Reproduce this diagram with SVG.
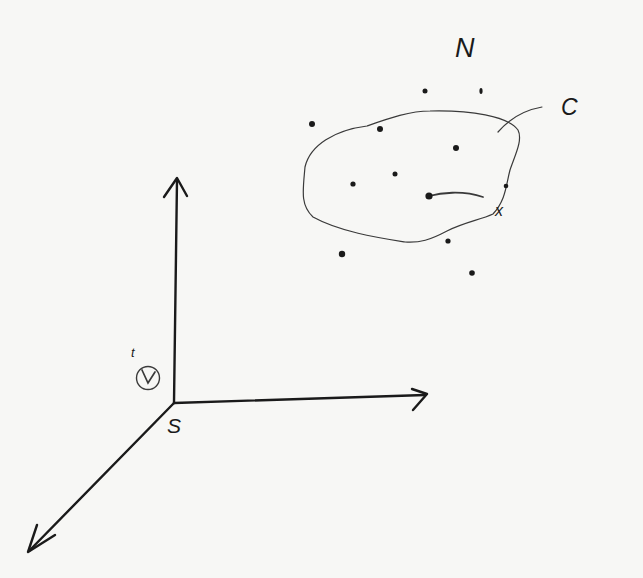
<svg xmlns="http://www.w3.org/2000/svg" width="643" height="578" viewBox="0 0 643 578">
<style>
.ax{fill:none;stroke:#1a1a1a;stroke-width:2.4;stroke-linecap:round;stroke-linejoin:round}
.thin{fill:none;stroke:#3a3a3a;stroke-width:1.2;stroke-linecap:round}
.dot{fill:#1a1a1a}
.lbl{font-family:"Liberation Sans",sans-serif;font-style:italic;fill:#1a1a1a}
</style>
<rect width="643" height="578" fill="#f7f7f5"/>
<g id="axes">
<path class="ax" d="M174,403 L177,180"/>
<path class="ax" d="M164,197 L177,178 L187,196"/>
<path class="ax" d="M174,403 L425,395"/>
<path class="ax" d="M412,389 L427,394 L413,410"/>
<path class="ax" d="M174,403 L29,551"/>
<path class="ax" d="M37,525 L28,552 L55,535"/>
</g>
<g id="clock">
<circle cx="148" cy="378" r="11.5" class="thin" style="stroke-width:1.4"/>
<path class="thin" style="stroke-width:1.7" d="M142,370 L148,383 L155,372"/>
<text class="lbl" x="131" y="357" font-size="13">t</text>
</g>
<g id="origin-label"><text class="lbl" x="167" y="433" font-size="21">S</text></g>
<g id="set-C">
<path class="thin" d="M430,111 C470,110 508,116 518,130 C523,140 515,155 510,170 C506,185 506,200 493,214 C480,220 465,222 447,231 C430,240 420,243 405,242 C380,238 340,232 313,217 C300,205 303,190 305,167 C310,145 335,130 367,126 C390,118 410,111 430,111 Z"/>
<path class="thin" d="M498,132 C510,118 525,110 542,107"/>
<path class="thin" style="stroke-width:1.8" d="M429,196 C440,193 462,190 483,197"/>
<text class="lbl" x="561" y="115" font-size="23">C</text>
<text class="lbl" x="495" y="216" font-size="16">x</text>
</g>
<g id="set-N">
<text class="lbl" x="455" y="57" font-size="27">N</text>
<circle class="dot" cx="425" cy="91" r="2.5"/>
<ellipse class="dot" cx="481" cy="91" rx="1.6" ry="3"/>
<circle class="dot" cx="312" cy="124" r="3"/>
<circle class="dot" cx="380" cy="129" r="3"/>
<circle class="dot" cx="456" cy="148" r="3"/>
<circle class="dot" cx="395" cy="174" r="2.5"/>
<circle class="dot" cx="353" cy="184" r="2.6"/>
<circle class="dot" cx="429" cy="196" r="3.6"/>
<circle class="dot" cx="506" cy="186" r="2.3"/>
<circle class="dot" cx="448" cy="241" r="2.6"/>
<circle class="dot" cx="342" cy="254" r="3.2"/>
<circle class="dot" cx="472" cy="273" r="2.8"/>
</g>
</svg>
